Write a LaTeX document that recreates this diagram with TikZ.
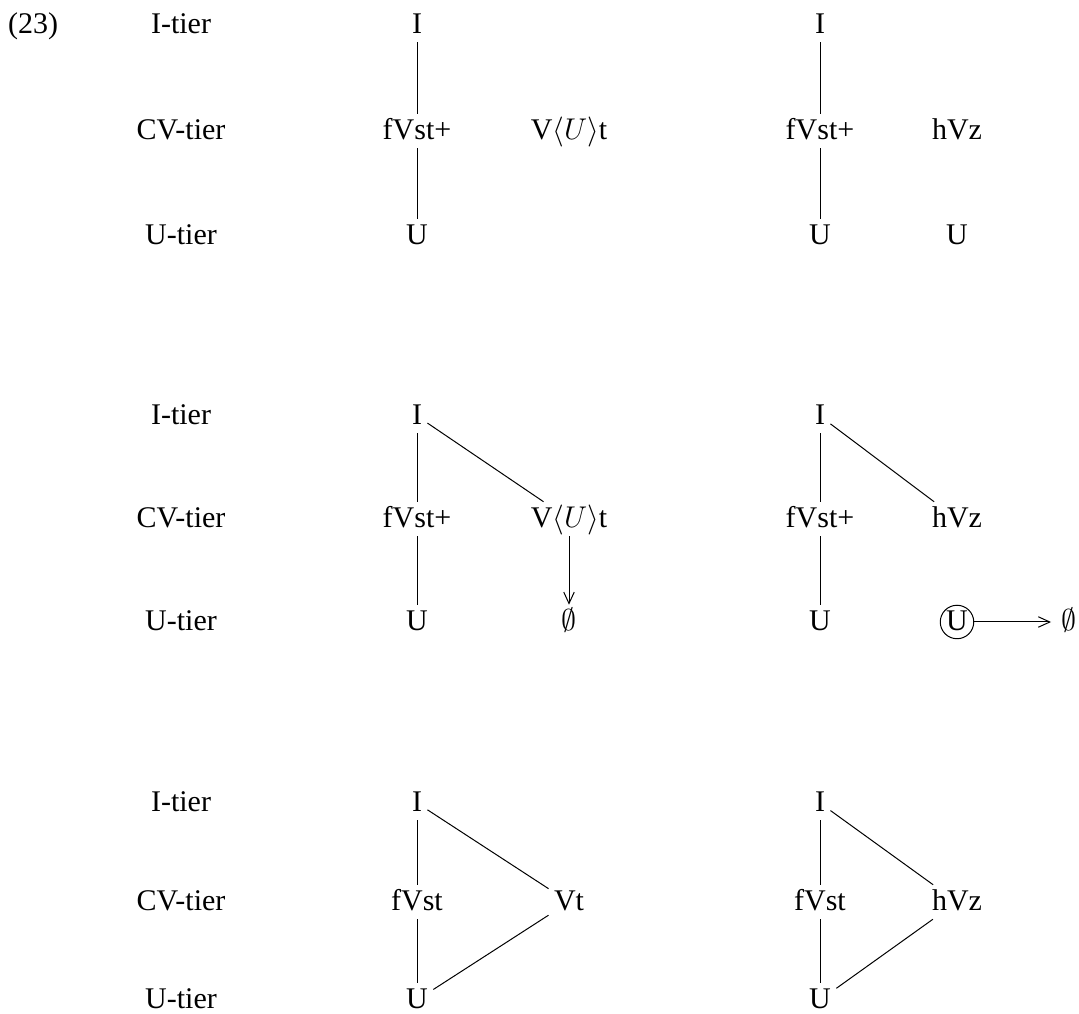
\documentclass[tikz,border=0pt]{standalone}
\usepackage{fontspec}
\setmainfont{Liberation Serif}
\usetikzlibrary{arrows, arrows.meta}

\begin{document}
\begin{tikzpicture}[x=0.4pt,y=0.4pt,
  every node/.style={font=\fontsize{12}{14}\selectfont,text height=0.8em,text depth=0.14em,inner sep=2pt},
  circ/.style={draw,circle,text height=0.66em,text depth=0pt,inner sep=0.9pt},
  >={Straight Barb[length=4.6pt,width=4.2pt]}]

\useasboundingbox (0,0) rectangle (1079,1013);

\def\xl{181}
\def\xa{417}
\def\xb{569}
\def\xc{820}
\def\xd{957}

\node (ex) at (33,988) {(23)};

% first step
\node (it1) at (\xl,988) {I-tier};
\node (cvt1) at (\xl,882) {CV-tier};
\node (ut1) at (\xl,777) {U-tier};

\node (i1a) at (\xa,988) {I};
\node (cv1a) at (\xa,882) {fVst+};
\node (u1a) at (\xa,777) {U};
\node (cv1b) at (\xb,882) {V$\langle U\rangle$t};
\draw (i1a) -- (cv1a) -- (u1a);

\node (i1c) at (\xc,988) {I};
\node (cv1c) at (\xc,882) {fVst+};
\node (u1c) at (\xc,777) {U};
\node (cv1d) at (\xd,882) {hVz};
\node (u1d) at (\xd,777) {U};
\draw (i1c) -- (cv1c) -- (u1c);

% second step
\node (it2) at (\xl,597) {I-tier};
\node (cvt2) at (\xl,494) {CV-tier};
\node (ut2) at (\xl,391) {U-tier};

\node (i2a) at (\xa,597) {I};
\node (cv2a) at (\xa,494) {fVst+};
\node (u2a) at (\xa,391) {U};
\node (cv2b) at (\xb,494) {V$\langle U\rangle$t};
\node (zero2b) at (\xb,391) {$\emptyset$};
\draw (i2a) -- (cv2a) -- (u2a);
\draw (i2a) -- (cv2b);
\draw[->] (cv2b) -- (zero2b);

\node (i2c) at (\xc,597) {I};
\node (cv2c) at (\xc,494) {fVst+};
\node (u2c) at (\xc,391) {U};
\node (cv2d) at (\xd,494) {hVz};
\node[circ] (u2d) at (\xd,391) {U};
\node (zero2d) at (1069,391) {$\emptyset$};
\draw (i2c) -- (cv2c) -- (u2c);
\draw (i2c) -- (cv2d);
\draw[->,shorten >=2pt] (u2d) -- (zero2d);

% third step
\node (it3) at (\xl,210) {I-tier};
\node (cvt3) at (\xl,111) {CV-tier};
\node (ut3) at (\xl,13) {U-tier};

\node (i3a) at (\xa,210) {I};
\node (cv3a) at (\xa,111) {fVst};
\node (u3a) at (\xa,13) {U};
\node (cv3b) at (\xb,111) {Vt};
\draw (i3a) -- (cv3a) -- (u3a);
\draw (i3a) -- (cv3b) -- (u3a);

\node (i3c) at (\xc,210) {I};
\node (cv3c) at (\xc,111) {fVst};
\node (u3c) at (\xc,13) {U};
\node (cv3d) at (\xd,111) {hVz};
\draw (i3c) -- (cv3c) -- (u3c);
\draw (i3c) -- (cv3d) -- (u3c);

\end{tikzpicture}
\end{document}
